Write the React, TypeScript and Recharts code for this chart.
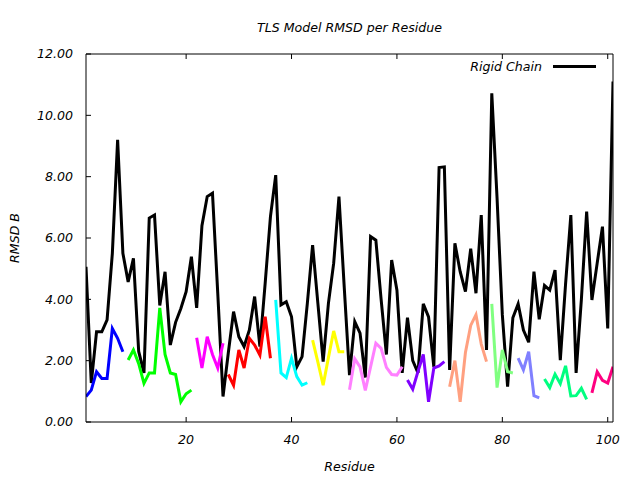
import React from 'react';
import { LineChart, Line, XAxis, YAxis, Legend, Label } from 'recharts';

// Residue numbers (x categories)
const residues = [
  1, 2, 3, 4, 5, 6, 7, 8, 9, 10, 11, 12, 13, 14, 15, 16, 17, 18, 19, 20,
  21, 22, 23, 24, 25, 26, 27, 28, 29, 30, 31, 32, 33, 34, 35, 36, 37, 38, 39, 40,
  41, 42, 43, 44, 45, 46, 47, 48, 49, 50, 51, 52, 53, 54, 55, 56, 57, 58, 59, 60,
  61, 62, 63, 64, 65, 66, 67, 68, 69, 70, 71, 72, 73, 74, 75, 76, 77, 78, 79, 80,
  81, 82, 83, 84, 85, 86, 87, 88, 89, 90, 91, 92, 93, 94, 95, 96, 97, 98, 99, 100, 101,
];

// Rigid chain RMSD B, one value per residue
const rigidChain = [
  5.06, 1.27, 2.94, 2.94, 3.33, 5.5, 9.2, 5.5, 4.57, 5.34,
  2.3, 1.6, 6.65, 6.75, 3.8, 4.9, 2.51, 3.25, 3.7, 4.25,
  5.39, 3.72, 6.4, 7.35, 7.46, 4.2, 0.83, 2.25, 3.6, 2.78,
  2.46, 3.0, 4.09, 2.46, 4.53, 6.7, 8.05, 3.82, 3.92, 3.43,
  1.8, 2.13, 3.87, 5.77, 3.87, 1.97, 3.87, 5.18, 7.35, 4.4,
  1.53, 3.27, 2.9, 1.45, 6.05, 5.93, 4.0, 2.2, 5.28, 4.3,
  1.6, 3.4, 2.0, 1.6, 3.85, 3.43, 1.8, 8.3, 8.32, 1.7,
  5.83, 4.9, 4.25, 5.65, 4.2, 6.75, 2.35, 10.72, 7.3, 3.5,
  1.15, 3.4, 3.85, 3.0, 2.6, 4.9, 3.35, 4.45, 4.3, 4.95,
  2.02, 4.5, 6.75, 1.6, 4.0, 6.86, 3.98, 5.18, 6.37, 3.05,
  11.1,
];

// TLS segment RMSD values (each starts at the given residue)
const seg1Start = 1;
const seg1Values = [0.83, 1.04, 1.64, 1.42, 1.42, 3.05, 2.73, 2.29];
const seg2Start = 9;
const seg2Values = [2.02, 2.35, 1.9, 1.26, 1.6, 1.6, 3.72, 2.2, 1.6, 1.55, 0.66, 0.92, 1.04];
const seg3Start = 22;
const seg3Values = [2.75, 1.76, 2.78, 2.2, 1.76, 2.57];
const seg4Start = 28;
const seg4Values = [1.55, 1.2, 2.35, 1.76, 2.73, 2.51, 2.18, 3.43, 2.08];
const seg5Start = 37;
const seg5Values = [3.98, 1.6, 1.45, 2.08, 1.48, 1.2, 1.28];
const seg6Start = 44;
const seg6Values = [2.67, 1.95, 1.2, 2.1, 2.97, 2.29, 2.29];
const seg7Start = 51;
const seg7Values = [1.05, 2.06, 1.8, 1.03, 1.8, 2.57, 2.4, 1.78, 1.55, 1.53, 1.8];
const seg8Start = 62;
const seg8Values = [1.37, 1.07, 1.65, 2.2, 0.66, 1.76, 1.83, 1.97];
const seg9Start = 70;
const seg9Values = [1.15, 2.0, 0.66, 2.27, 3.15, 3.5, 2.54, 1.97];
const seg10Start = 78;
const seg10Values = [3.85, 1.12, 2.35, 1.64, 1.6];
const seg11Start = 83;
const seg11Values = [2.08, 1.7, 2.29, 0.86, 0.79];
const seg12Start = 88;
const seg12Values = [1.4, 1.12, 1.56, 1.25, 1.83, 0.85, 0.86, 1.1, 0.74];
const seg13Start = 97;
const seg13Values = [0.95, 1.64, 1.36, 1.27, 1.8];

const xTicks = [20, 40, 60, 80, 100];
const yTicks = [0, 2, 4, 6, 8, 10, 12];
const yTickLabels = ['0.00', '2.00', '4.00', '6.00', '8.00', '10.00', '12.00'];

const segments = [
  { key: 'seg1', start: seg1Start, values: seg1Values, color: '#0000ff' },
  { key: 'seg2', start: seg2Start, values: seg2Values, color: '#00ff00' },
  { key: 'seg3', start: seg3Start, values: seg3Values, color: '#ff00ff' },
  { key: 'seg4', start: seg4Start, values: seg4Values, color: '#ff0000' },
  { key: 'seg5', start: seg5Start, values: seg5Values, color: '#00ffff' },
  { key: 'seg6', start: seg6Start, values: seg6Values, color: '#ffff00' },
  { key: 'seg7', start: seg7Start, values: seg7Values, color: '#ff80ff' },
  { key: 'seg8', start: seg8Start, values: seg8Values, color: '#8000ff' },
  { key: 'seg9', start: seg9Start, values: seg9Values, color: '#ffa080' },
  { key: 'seg10', start: seg10Start, values: seg10Values, color: '#80ff80' },
  { key: 'seg11', start: seg11Start, values: seg11Values, color: '#8080ff' },
  { key: 'seg12', start: seg12Start, values: seg12Values, color: '#00ff80' },
  { key: 'seg13', start: seg13Start, values: seg13Values, color: '#ff0080' },
];

const data = residues.map((res, i) => {
  const row: Record<string, number> = { res, rigid: rigidChain[i] };
  segments.forEach((s) => {
    const j = res - s.start;
    if (j >= 0 && j < s.values.length) row[s.key] = s.values[j];
  });
  return row;
});

const FONT = 'DejaVu Sans';
const tickStyle = { fontSize: 12.6, fontStyle: 'italic', fill: '#000', fontFamily: FONT };

const LegendContent = () => (
  <div style={{ position: 'relative', width: 640, height: 0, fontFamily: FONT }}>
    <span
      style={{
        position: 'absolute',
        right: 640 - 542,
        top: 59,
        fontSize: 12.6,
        lineHeight: '15px',
        fontStyle: 'italic',
        color: '#000',
        whiteSpace: 'nowrap',
      }}
    >
      Rigid Chain
    </span>
    <div style={{ position: 'absolute', left: 553, top: 65, width: 43, height: 3, background: '#000' }} />
  </div>
);

export default function App() {
  return (
    <div style={{ position: 'absolute', left: 0, top: 0, width: 640, height: 480, background: '#fff', fontFamily: FONT }}>
      <LineChart
        width={640}
        height={480}
        data={data}
        margin={{ top: 44, right: 17, bottom: 18, left: 16 }}
      >
        <XAxis
          dataKey="res"
          type="number"
          domain={[1, 101]}
          ticks={xTicks}
          allowDataOverflow
          height={40}
          tickSize={-5}
          tickMargin={18}
          tick={tickStyle}
          axisLine={{ stroke: '#000' }}
          tickLine={{ stroke: '#000' }}
        >
          <Label
            value="Residue"
            position="bottom"
            offset={0}
            style={{ fontSize: 12.6, fontStyle: 'italic', fill: '#000', fontFamily: FONT }}
          />
        </XAxis>
        <XAxis
          xAxisId="top"
          orientation="top"
          dataKey="res"
          type="number"
          domain={[1, 101]}
          ticks={xTicks}
          allowDataOverflow
          height={10}
          tickSize={-5}
          tickFormatter={() => ''}
          axisLine={{ stroke: '#000' }}
          tickLine={{ stroke: '#000' }}
        >
          <Label
            value="TLS Model RMSD per Residue"
            position="top"
            offset={12.5}
            style={{ fontSize: 12.6, fontStyle: 'italic', fill: '#000', fontFamily: FONT }}
          />
        </XAxis>
        <YAxis
          type="number"
          domain={[0, 12]}
          ticks={yTicks}
          width={70}
          tickSize={-5}
          tickMargin={18}
          tick={tickStyle}
          tickFormatter={(v: number) => yTickLabels[yTicks.indexOf(v)] ?? String(v)}
          axisLine={{ stroke: '#000' }}
          tickLine={{ stroke: '#000' }}
        >
          <Label
            value="RMSD B"
            angle={-90}
            position="insideLeft"
            offset={-1}
            style={{ fontSize: 12.6, fontStyle: 'italic', fill: '#000', fontFamily: FONT, textAnchor: 'middle' }}
          />
        </YAxis>
        <YAxis
          yAxisId="right"
          orientation="right"
          type="number"
          domain={[0, 12]}
          ticks={yTicks}
          width={10}
          tickSize={-5}
          tickFormatter={() => ''}
          axisLine={{ stroke: '#000' }}
          tickLine={{ stroke: '#000' }}
        />
        <Legend
          layout="horizontal"
          verticalAlign="middle"
          align="center"
          wrapperStyle={{ left: 0, top: 0, width: 640, height: 0 }}
          content={() => <LegendContent />}
        />
        <Line
          dataKey="rigid"
          name="Rigid Chain"
          type="linear"
          stroke="#000"
          strokeWidth={3}
          dot={false}
          activeDot={false}
          isAnimationActive={false}
        />
        {segments.map((s) => (
          <Line
            key={s.key}
            dataKey={s.key}
            type="linear"
            stroke={s.color}
            strokeWidth={3}
            dot={false}
            activeDot={false}
            legendType="none"
            isAnimationActive={false}
          />
        ))}
      </LineChart>
    </div>
  );
}
